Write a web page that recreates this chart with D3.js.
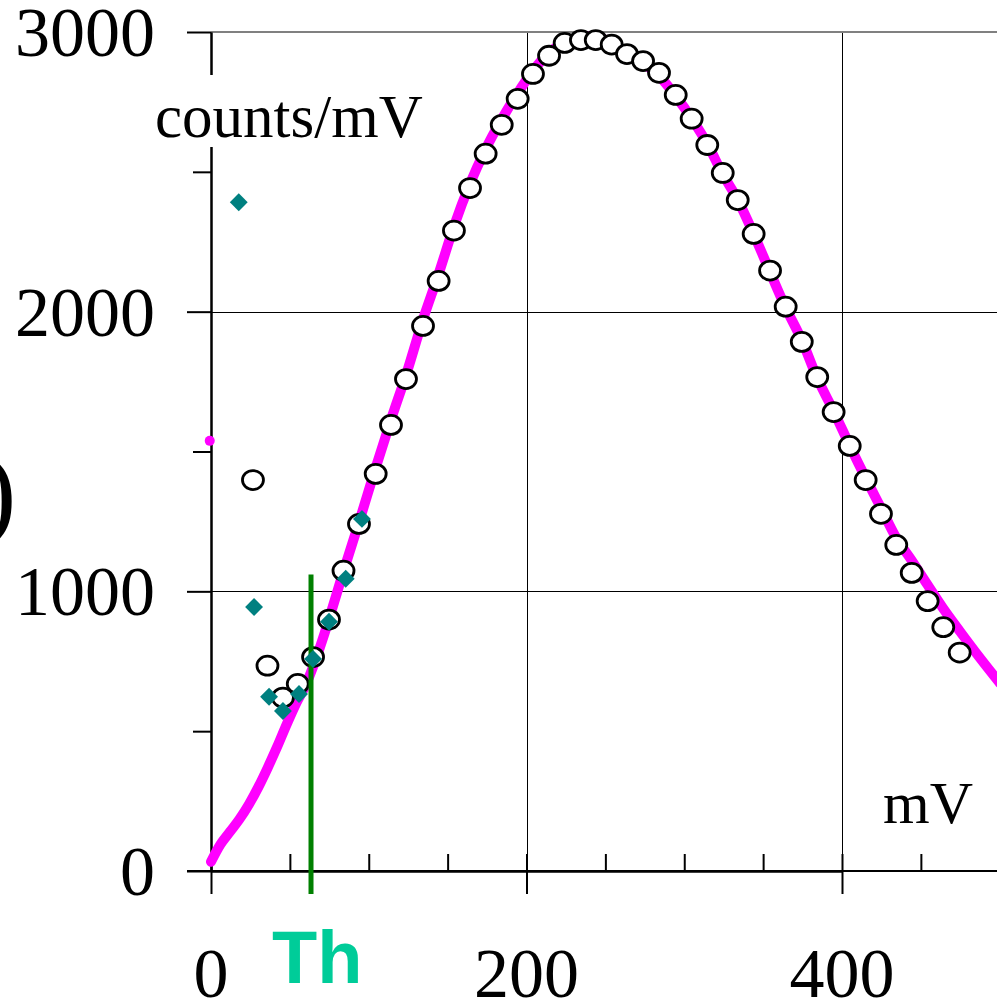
<!DOCTYPE html>
<html>
<head>
<meta charset="utf-8">
<script src="https://cdn.jsdelivr.net/npm/d3@7"></script>
<style>
  html, body { margin: 0; padding: 0; background: #fff; }
  svg { display: block; }
</style>
</head>
<body>
<div class="main-container"></div>
<script>
// spectrum (magenta): mV / counts per mV
const curveMv = [0, 6, 12, 18, 24, 30, 36, 42, 48, 54, 60, 66, 72, 78, 84, 94, 104, 114, 124, 134,
  144, 154, 164, 174, 184, 194, 204, 214, 224, 234, 244, 254, 264, 274, 284, 295, 305, 315, 324, 334,
  344, 354, 364, 375, 384, 395, 405, 415, 425, 434, 444, 454, 464, 475, 487, 500];
const curveCounts = [33, 95, 140, 185, 238, 300, 370, 445, 525, 600, 665, 750, 850, 960, 1072, 1250, 1435, 1612, 1780, 1965,
  2130, 2305, 2455, 2580, 2685, 2778, 2860, 2925, 2962, 2982, 2985, 2958, 2924, 2888, 2843, 2768, 2688, 2596, 2496, 2399,
  2278, 2147, 2018, 1892, 1766, 1641, 1520, 1405, 1295, 1195, 1112, 1025, 940, 855, 765, 672];

// stray magenta point at the axis
const strayMv = [-0.8];
const strayCounts = [1538];

// open circles
const circleMv = [26.6, 35.8, 45.6, 55.0, 64.7, 74.8, 84.0, 93.8, 104.4, 114.1, 123.6, 134.4, 144.3, 154.0,
  164.2, 174.1, 184.3, 194.4, 204.1, 214.3, 224.2, 234.5, 243.9, 254.0, 263.7, 273.9, 284.0, 294.6,
  304.7, 314.6, 324.4, 333.9, 344.0, 354.4, 364.3, 374.5, 384.3, 394.7, 404.9, 415.0, 424.7, 434.4,
  444.2, 454.3, 464.2, 474.6];
const circleCounts = [1398, 734, 620, 669, 765, 899, 1074, 1241, 1420, 1595, 1759, 1949, 2110, 2290,
  2442, 2565, 2668, 2761, 2850, 2915, 2961, 2971, 2971, 2955, 2921, 2896, 2854, 2775,
  2690, 2596, 2496, 2399, 2278, 2147, 2018, 1892, 1766, 1641, 1520, 1398, 1277, 1166,
  1066, 965, 872, 781];

// teal diamonds
const diamondMv = [17.6, 27.3, 36.8, 45.6, 55.8, 64.7, 74.8, 85.4, 95.7];
const diamondCounts = [2391, 944, 623, 572, 633, 758, 891, 1045, 1259];

// threshold
const thresholdMv = 63.4;
const thresholdTop = 1060;

// ticks
const xMajor = [0, 200, 400];
const xMinor = [50, 100, 150, 250, 300, 350, 450];
const xGrid = [200, 400];
const yMajor = [0, 1000, 2000, 3000];
const yMinor = [500, 1500, 2500];
const yGrid = [1000, 2000];

const width = 997, height = 1000;
const x = d3.scaleLinear().domain([0, 400]).range([211, 842]);
const y = d3.scaleLinear().domain([0, 3000]).range([871, 32]);
const serif = '"Liberation Serif", "Times New Roman", serif';

const svg = d3.select('.main-container').append('svg')
  .attr('width', width).attr('height', height);

// grid
svg.append('g').selectAll('line').data(yGrid).join('line')
  .attr('x1', x(0)).attr('x2', width)
  .attr('y1', d => Math.round(y(d)) + 0.5).attr('y2', d => Math.round(y(d)) + 0.5)
  .attr('stroke', '#000').attr('stroke-width', 1);
svg.append('g').selectAll('line').data(xGrid).join('line')
  .attr('x1', d => Math.round(x(d)) + 0.5).attr('x2', d => Math.round(x(d)) + 0.5)
  .attr('y1', y(3000)).attr('y2', y(0))
  .attr('stroke', '#000').attr('stroke-width', 1);
svg.append('line')
  .attr('x1', x(0)).attr('x2', width).attr('y1', y(3000)).attr('y2', y(3000))
  .attr('stroke', '#808080').attr('stroke-width', 2);

// axes
const styleAxis = g => {
  g.selectAll('path, line').attr('stroke', '#000').attr('stroke-width', 2);
  g.selectAll('text').remove();
};
svg.append('g').attr('transform', `translate(${x(0)},0)`)
  .call(d3.axisLeft(y).tickValues(yMajor).tickSize(24).tickSizeOuter(0).tickFormat(''))
  .call(styleAxis);
svg.append('g').attr('transform', `translate(${x(0)},0)`)
  .call(d3.axisLeft(y).tickValues(yMinor).tickSize(18).tickSizeOuter(0).tickFormat(''))
  .call(styleAxis);
svg.append('g').attr('transform', `translate(0,${y(0)})`)
  .call(d3.axisBottom(x).tickValues(xMajor).tickSize(23).tickSizeOuter(0).tickFormat(''))
  .call(styleAxis);
svg.append('g').attr('transform', `translate(0,${y(0)})`)
  .call(d3.axisTop(x).tickValues(xMajor.concat(xMinor)).tickSize(17).tickSizeOuter(0).tickFormat(''))
  .call(styleAxis);
// extend x axis line to the left and right edge
svg.append('line')
  .attr('x1', 187).attr('x2', width).attr('y1', y(0)).attr('y2', y(0))
  .attr('stroke', '#000').attr('stroke-width', 2);

// tick labels
svg.append('g').selectAll('text').data(yMajor).join('text')
  .attr('x', 155).attr('y', d => y(d) + 24)
  .attr('text-anchor', 'end')
  .style('font-family', serif).style('font-size', '70px')
  .text(d => d);
svg.append('g').selectAll('text').data(xMajor).join('text')
  .attr('x', d => x(d)).attr('y', 997)
  .attr('text-anchor', 'middle')
  .style('font-family', serif).style('font-size', '70px')
  .text(d => d);

// unit labels
svg.append('rect').attr('x', 150).attr('y', 75).attr('width', 275).attr('height', 72).attr('fill', '#fff');
svg.append('text').attr('x', 155).attr('y', 137)
  .style('font-family', serif).style('font-size', '61px')
  .text('counts/mV');
svg.append('text').attr('x', 883).attr('y', 823)
  .style('font-family', serif).style('font-size', '60px')
  .text('mV');
// cut-off axis title fragment at the left edge
svg.append('text').attr('x', -19).attr('y', 527)
  .style('font-family', serif).style('font-size', '106px')
  .text(')');

// magenta spectrum
const curveData = curveMv.map((d, i) => [d, curveCounts[i]]);
svg.append('path').datum(curveData)
  .attr('d', d3.line().x(d => x(d[0])).y(d => y(d[1])).curve(d3.curveMonotoneX))
  .attr('fill', 'none').attr('stroke', '#ff00ff').attr('stroke-width', 10)
  .attr('stroke-linecap', 'round').attr('stroke-linejoin', 'round');
svg.append('g').selectAll('circle').data(strayMv).join('circle')
  .attr('cx', d => x(d)).attr('cy', (d, i) => y(strayCounts[i])).attr('r', 5)
  .attr('fill', '#ff00ff');

// open circles
svg.append('g').selectAll('ellipse').data(circleMv).join('ellipse')
  .attr('cx', d => x(d)).attr('cy', (d, i) => y(circleCounts[i]))
  .attr('rx', 10.5).attr('ry', 9.5)
  .attr('fill', '#fff').attr('stroke', '#000').attr('stroke-width', 2.8);

// threshold line
svg.append('line')
  .attr('x1', x(thresholdMv)).attr('x2', x(thresholdMv))
  .attr('y1', y(thresholdTop)).attr('y2', y(0) + 23)
  .attr('stroke', '#008000').attr('stroke-width', 5);

// diamonds
const diamond = d3.symbol().type(d3.symbolSquare).size(160);
svg.append('g').selectAll('path').data(diamondMv).join('path')
  .attr('d', diamond)
  .attr('transform', (d, i) => `translate(${x(d)},${y(diamondCounts[i])}) rotate(45)`)
  .attr('fill', '#008080');

// threshold label
svg.append('text').attr('x', 272).attr('y', 983)
  .style('font-family', '"Liberation Sans", Arial, sans-serif')
  .style('font-size', '74px').style('font-weight', 'bold')
  .attr('fill', '#00cc99')
  .text('Th');
</script>
</body>
</html>
